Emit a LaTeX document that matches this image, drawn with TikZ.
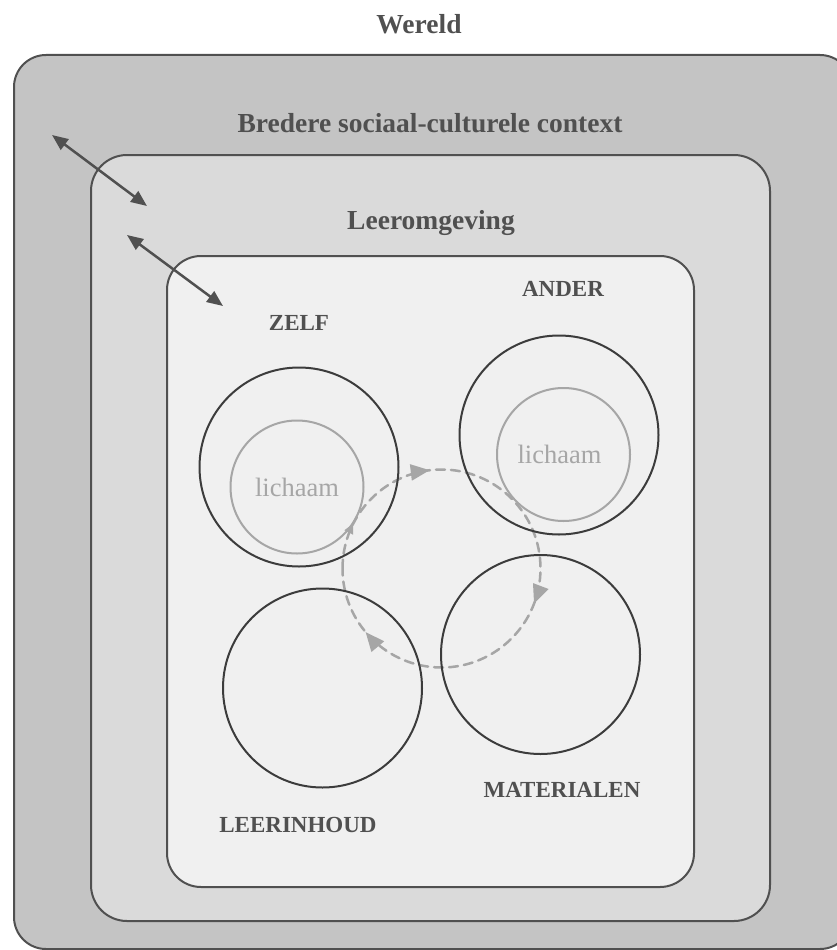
\documentclass[tikz,border=0pt]{standalone}
\usepackage{fontspec}
\setmainfont{Liberation Serif}
\usetikzlibrary{arrows.meta,decorations.markings}
\definecolor{wereldgrijs}{HTML}{C4C4C4}
\definecolor{contextgrijs}{HTML}{DADADA}
\definecolor{leergrijs}{HTML}{F0F0F0}
\definecolor{rand}{HTML}{505050}
\definecolor{bolrand}{HTML}{3C3C3C}
\definecolor{lijfgrijs}{HTML}{A6A6A6}
\begin{document}
\begin{tikzpicture}[x=1pt,y=-1pt,line join=round,line cap=round,
	kader/.style={draw=rand,line width=2pt},
	kop/.style={text=rand,font=\fontsize{27.5}{32}\selectfont\bfseries},
	rol/.style={text=rand,font=\fontsize{23}{28}\selectfont\bfseries},
	bol/.style={circle,draw=bolrand,line width=2pt,minimum size=199pt,inner sep=0pt},
	lijf/.style={circle,draw=lijfgrijs,line width=2pt,minimum size=133pt,inner sep=0pt,
		text=lijfgrijs,font=\fontsize{26.5}{30}\selectfont},
	pijl/.style={draw=rand,line width=2.5pt,{Triangle[length=16pt,width=13pt]}-{Triangle[length=16pt,width=13pt]}}]
	\useasboundingbox (0,0) rectangle (837,950);
	\clip (0,0) rectangle (837,950);
	\fill[white] (0,0) rectangle (837,950);
	% drie lagen
	\draw[kader,fill=wereldgrijs,rounded corners=32pt] (14,55) rectangle (852,949);
	\draw[kader,fill=contextgrijs,rounded corners=36pt] (91,155) rectangle (770,921);
	\draw[kader,fill=leergrijs,rounded corners=34pt] (167,256) rectangle (694,887);
	\node[kop] (wereld) at (419,24) {Wereld};
	\node[kop] (bredere) at (430,123) {Bredere sociaal-culturele context};
	\node[kop] (leeromgeving) at (431,223) {Leeromgeving};
	% wisselwerking tussen de lagen
	\path
	(52,135) coordinate (W)
	(147,206) coordinate (C)
	(127,235) coordinate (C')
	(223,306) coordinate (L)
	;
	\draw[pijl] (W)--(C);
	\draw[pijl] (C')--(L);
	% kringloop
	\coordinate (kring) at (441.5,568.5);
	\draw[draw=lijfgrijs,line width=2.5pt,dash pattern=on 9pt off 6pt,
		postaction={decorate},decoration={markings,
			mark=at position .075 with {\arrow{Triangle[length=10pt,width=9pt,color=lijfgrijs]}},
			mark=at position .231 with {\arrow{Triangle[length=19pt,width=16pt,color=lijfgrijs]}},
			mark=at position .558 with {\arrow{Triangle[length=19pt,width=16pt,color=lijfgrijs]}},
			mark=at position .889 with {\arrow{Triangle[length=19pt,width=16pt,color=lijfgrijs]}}}]
		(kring) ++(180:99) arc[start angle=180,end angle=-180,radius=99pt];
	% vier polen
	\node[bol] (zelf) at (299,467) {};
	\node[lijf] (zelflijf) at (297,487) {\raisebox{-4pt}{lichaam}};
	\node[bol] (ander) at (559,435) {};
	\node[lijf] (anderlijf) at (563.5,454.5) {\hspace*{-8pt}\raisebox{-2pt}{lichaam}};
	\node[bol] (inhoud) at (322.5,688) {};
	\node[bol] (materialen) at (540.5,654.5) {};
	\foreach \n/\t/\p in {zelftxt/ZELF/{(299,323)},andertxt/ANDER/{(563,289)},
		inhoudtxt/LEERINHOUD/{(298,825)},materialentxt/MATERIALEN/{(562,790)}}{
		\node[rol] (\n) at \p {\t};
	};
\end{tikzpicture}
\end{document}
